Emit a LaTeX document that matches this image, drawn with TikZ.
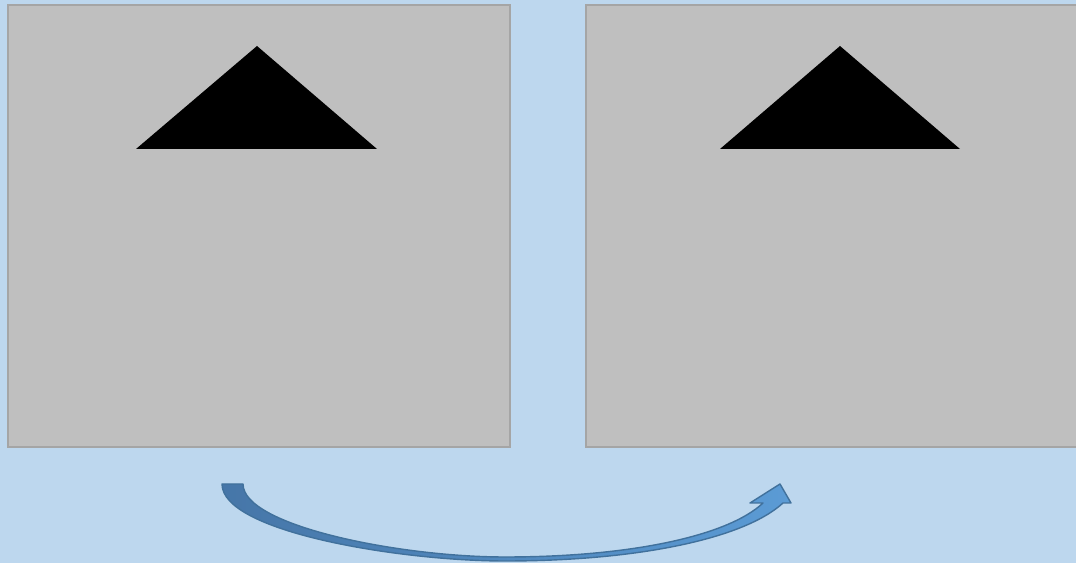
\documentclass[tikz,border=0pt]{standalone}
\usepackage{tikz}
\usetikzlibrary{calc}
\definecolor{skyback}{HTML}{BDD7EE}
\definecolor{panelgray}{HTML}{BFBFBF}
\definecolor{paneledge}{HTML}{A5A5A5}
\definecolor{arrowdark}{HTML}{4676A8}
\definecolor{arrowlight}{HTML}{5B9BD5}
\definecolor{arrowedge}{HTML}{41719C}

\begin{document}
\begin{tikzpicture}[
    x=0.02cm, y=-0.02cm,
    panel/.style={
        fill=panelgray,
        draw=paneledge,
        line width=1.2pt    % Thin grey frame round each panel
    },
    peak/.style={
        fill=black          % Solid black triangle, no outline
    },
    curvearrow/.style={
        left color=arrowdark,
        right color=arrowlight,
        draw=arrowedge,
        line width=0.8pt,
        line join=round
    }
]
\useasboundingbox (0,0) rectangle (1076,563);
\fill[skyback] (0,0) rectangle (1076,563);

% two panels, the right one runs off the page
\draw[panel] (8,5) rectangle (510,447);
\draw[panel] (586,5) rectangle (1090,447);

\coordinate (left top) at (257,46);
\coordinate (right top) at (840,46);
\fill[peak] (left top) -- (377,149) -- (136,149) -- cycle;
\fill[peak] (right top) -- (960,149) -- (720,149) -- cycle;

% curved block arrow from under the left panel to under the right one
\coordinate (tail) at (232,484);
\coordinate (tip) at (780,484);
\draw[curvearrow] (222,484) .. controls (222,532) and (400,561) .. (505,561)
    .. controls (640,561) and (745,538) .. (783,503)
    -- (791,503) -- (tip) -- (750,503) -- (763,503)
    .. controls (728,536) and (630,557) .. (505,557)
    .. controls (400,557) and (243,526) .. (243,484) -- cycle;
\end{tikzpicture}
\end{document}
